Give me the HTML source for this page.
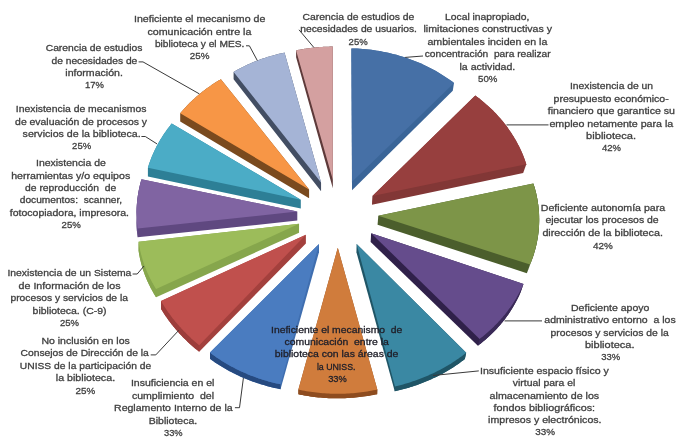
<!DOCTYPE html>
<html><head><meta charset="utf-8"><style>
html,body{margin:0;padding:0;background:#fff;}
svg{display:block;will-change:transform;}
text{font-family:"Liberation Sans",sans-serif;font-size:9.8px;}
</style></head><body>
<svg width="688" height="442" viewBox="0 0 688 442">
<rect width="688" height="442" fill="#fff"/>
<polygon points="352.01,190.34 351.38,55.22 351.40,48.40 354.25,48.47 357.10,48.59 359.95,48.75 362.80,48.95 365.64,49.20 368.48,49.49 371.32,49.83 374.14,50.22 376.97,50.64 379.78,51.11 382.58,51.63 385.38,52.19 388.16,52.79 390.93,53.44 393.69,54.13 396.44,54.86 399.17,55.64 401.89,56.46 404.59,57.32 407.28,58.23 409.95,59.17 412.60,60.16 415.23,61.19 417.84,62.26 420.43,63.37 422.99,64.52 425.54,65.71 428.06,66.94 430.55,68.21 433.03,69.52 435.47,70.87 437.89,72.26 440.28,73.68 442.64,75.15 444.97,76.64 447.28,78.18 449.55,79.75 451.79,81.36 454.00,83.00 452.76,90.63" fill="#3a6598"/>
<polygon points="352.10,181.73 351.40,48.40 354.25,48.47 357.10,48.59 359.95,48.75 362.80,48.95 365.64,49.20 368.48,49.49 371.32,49.83 374.14,50.22 376.97,50.64 379.78,51.11 382.58,51.63 385.38,52.19 388.16,52.79 390.93,53.44 393.69,54.13 396.44,54.86 399.17,55.64 401.89,56.46 404.59,57.32 407.28,58.23 409.95,59.17 412.60,60.16 415.23,61.19 417.84,62.26 420.43,63.37 422.99,64.52 425.54,65.71 428.06,66.94 430.55,68.21 433.03,69.52 435.47,70.87 437.89,72.26 440.28,73.68 442.64,75.15 444.97,76.64 447.28,78.18 449.55,79.75 451.79,81.36 454.00,83.00" fill="#4670a6"/>
<polygon points="523.16,173.01 371.94,204.82 372.46,195.94 475.30,95.50 477.16,96.88 478.99,98.28 480.79,99.71 482.58,101.16 484.33,102.63 486.06,104.13 487.77,105.65 489.45,107.19 491.10,108.75 492.72,110.34 494.32,111.95 495.89,113.58 497.43,115.23 498.94,116.90 500.42,118.59 501.87,120.30 503.29,122.03 504.69,123.78 506.05,125.55 507.38,127.34 508.67,129.14 509.94,130.97 511.17,132.80 512.38,134.66 513.54,136.53 514.68,138.42 515.78,140.32 516.85,142.24 517.89,144.17 518.89,146.12 519.85,148.08 520.78,150.05 521.68,152.04 522.54,154.04 523.36,156.05 524.15,158.07 524.90,160.10 525.62,162.15 526.30,164.20" fill="#823736"/>
<polygon points="372.46,195.94 475.30,95.50 477.16,96.88 478.99,98.28 480.79,99.71 482.58,101.16 484.33,102.63 486.06,104.13 487.77,105.65 489.45,107.19 491.10,108.75 492.72,110.34 494.32,111.95 495.89,113.58 497.43,115.23 498.94,116.90 500.42,118.59 501.87,120.30 503.29,122.03 504.69,123.78 506.05,125.55 507.38,127.34 508.67,129.14 509.94,130.97 511.17,132.80 512.38,134.66 513.54,136.53 514.68,138.42 515.78,140.32 516.85,142.24 517.89,144.17 518.89,146.12 519.85,148.08 520.78,150.05 521.68,152.04 522.54,154.04 523.36,156.05 524.15,158.07 524.90,160.10 525.62,162.15 526.30,164.20" fill="#973f3e"/>
<polygon points="526.80,273.21 377.59,224.80 378.30,215.80 533.30,183.40 533.95,185.43 534.56,187.46 535.14,189.50 535.67,191.55 536.17,193.61 536.64,195.68 537.06,197.75 537.44,199.83 537.79,201.92 538.10,204.01 538.37,206.10 538.60,208.20 538.79,210.31 538.95,212.41 539.06,214.52 539.13,216.63 539.17,218.74 539.17,220.86 539.12,222.97 539.04,225.09 538.92,227.20 538.76,229.32 538.56,231.43 538.31,233.54 538.03,235.65 537.72,237.75 537.36,239.85 536.96,241.95 536.52,244.04 536.04,246.13 535.53,248.21 534.97,250.29 534.38,252.36 533.75,254.42 533.07,256.47 532.36,258.52 531.61,260.55 528.37,269.23 527.61,271.22" fill="#4b5e2c"/>
<polygon points="533.30,183.40 533.95,185.43 534.56,187.46 535.14,189.50 535.67,191.55 536.17,193.61 536.64,195.68 537.06,197.75 537.44,199.83 537.79,201.92 538.10,204.01 538.37,206.10 538.60,208.20 538.79,210.31 538.95,212.41 539.06,214.52 539.13,216.63 539.17,218.74 539.17,220.86 539.12,222.97 539.04,225.09 538.92,227.20 538.76,229.32 538.56,231.43 538.31,233.54 538.03,235.65 537.72,237.75 537.36,239.85 536.96,241.95 536.52,244.04 536.04,246.13 535.53,248.21 534.97,250.29 534.38,252.36 533.75,254.42 533.07,256.47 532.36,258.52 531.61,260.55 530.83,262.58 530.00,264.60 526.80,273.21 527.61,271.22 528.37,269.23 529.10,267.22 529.79,265.20 530.44,263.17 531.05,261.13 531.63,259.09 532.17,257.03 532.67,254.97 533.13,252.90 533.55,250.83 533.94,248.75 534.28,246.66 534.59,244.57 534.86,242.48 535.09,240.38 535.29,238.28 535.44,236.17 535.56,234.07 535.63,231.96 535.67,229.85 535.67,227.74 535.64,225.63 535.56,223.52 535.45,221.41 535.29,219.30 535.10,217.20 534.88,215.10 534.62,213.00 534.32,210.91 533.98,208.82 533.60,206.73 533.19,204.66 532.74,202.58 532.26,200.52 531.73,198.46 531.17,196.41 530.58,194.37 529.95,192.33" fill="#4f6330"/>
<polygon points="378.30,215.80 533.30,183.40 533.95,185.43 534.56,187.46 535.14,189.50 535.67,191.55 536.17,193.61 536.64,195.68 537.06,197.75 537.44,199.83 537.79,201.92 538.10,204.01 538.37,206.10 538.60,208.20 538.79,210.31 538.95,212.41 539.06,214.52 539.13,216.63 539.17,218.74 539.17,220.86 539.12,222.97 539.04,225.09 538.92,227.20 538.76,229.32 538.56,231.43 538.31,233.54 538.03,235.65 537.72,237.75 537.36,239.85 536.96,241.95 536.52,244.04 536.04,246.13 535.53,248.21 534.97,250.29 534.38,252.36 533.75,254.42 533.07,256.47 532.36,258.52 531.61,260.55 530.83,262.58 530.00,264.60" fill="#7d9548"/>
<polygon points="477.89,345.70 370.64,241.89 371.12,233.18 523.50,284.00 520.57,292.27 519.88,293.84 519.18,295.40 518.45,296.95 517.70,298.49 516.93,300.03 516.13,301.56 515.31,303.08 514.47,304.58 513.61,306.09 512.72,307.58 511.81,309.06 510.88,310.53 509.93,311.99 508.95,313.44 507.95,314.88 506.94,316.31 505.90,317.73 504.84,319.14 503.75,320.53 502.65,321.91 501.52,323.29 500.38,324.65 499.21,325.99 498.03,327.33 496.82,328.65 495.59,329.96 494.35,331.26 493.08,332.54 491.79,333.81 490.49,335.06 489.16,336.30 487.82,337.53 486.45,338.74 485.07,339.94 483.67,341.12 482.25,342.29 480.82,343.44 479.36,344.58" fill="#30214a"/>
<polygon points="523.50,284.00 522.79,285.60 522.06,287.19 521.31,288.78 520.53,290.36 519.73,291.93 518.91,293.49 518.06,295.04 517.19,296.59 516.30,298.13 515.38,299.65 514.44,301.17 513.48,302.68 512.50,304.18 511.49,305.67 510.47,307.15 509.42,308.62 508.35,310.08 507.25,311.53 506.14,312.96 505.00,314.39 503.85,315.80 502.67,317.20 501.47,318.59 500.25,319.97 499.01,321.34 497.75,322.69 496.47,324.03 495.17,325.35 493.85,326.66 492.51,327.96 491.15,329.25 489.77,330.52 488.37,331.77 486.96,333.02 485.52,334.24 484.07,335.46 482.60,336.65 481.11,337.83 479.60,339.00 477.89,345.70 479.36,344.58 480.82,343.44 482.25,342.29 483.67,341.12 485.07,339.94 486.45,338.74 487.82,337.53 489.16,336.30 490.49,335.06 491.79,333.81 493.08,332.54 494.35,331.26 495.59,329.96 496.82,328.65 498.03,327.33 499.21,325.99 500.38,324.65 501.52,323.29 502.65,321.91 503.75,320.53 504.84,319.14 505.90,317.73 506.94,316.31 507.95,314.88 508.95,313.44 509.93,311.99 510.88,310.53 511.81,309.06 512.72,307.58 513.61,306.09 514.47,304.58 515.31,303.08 516.13,301.56 516.93,300.03 517.70,298.49 518.45,296.95 519.18,295.40 519.88,293.84 520.57,292.27" fill="#3a2a58"/>
<polygon points="371.12,233.18 523.50,284.00 522.79,285.60 522.06,287.19 521.31,288.78 520.53,290.36 519.73,291.93 518.91,293.49 518.06,295.04 517.19,296.59 516.30,298.13 515.38,299.65 514.44,301.17 513.48,302.68 512.50,304.18 511.49,305.67 510.47,307.15 509.42,308.62 508.35,310.08 507.25,311.53 506.14,312.96 505.00,314.39 503.85,315.80 502.67,317.20 501.47,318.59 500.25,319.97 499.01,321.34 497.75,322.69 496.47,324.03 495.17,325.35 493.85,326.66 492.51,327.96 491.15,329.25 489.77,330.52 488.37,331.77 486.96,333.02 485.52,334.24 484.07,335.46 482.60,336.65 481.11,337.83 479.60,339.00" fill="#654c8c"/>
<polygon points="394.74,391.24 356.45,252.25 356.61,243.95 466.20,352.80 464.84,359.05 463.32,360.22 461.78,361.37 460.22,362.51 458.64,363.63 457.05,364.74 455.44,365.82 453.81,366.90 452.17,367.95 450.52,368.99 448.84,370.00 447.15,371.00 445.45,371.99 443.73,372.95 442.00,373.90 440.25,374.83 438.49,375.74 436.71,376.63 434.92,377.50 433.12,378.35 431.31,379.19 429.48,380.00 427.64,380.80 425.78,381.57 423.92,382.33 422.04,383.07 420.16,383.78 418.26,384.48 416.35,385.16 414.43,385.81 412.50,386.45 410.56,387.06 408.61,387.66 406.66,388.23 404.69,388.79 402.71,389.32 400.73,389.83 398.74,390.32 396.74,390.79" fill="#1f5566"/>
<polygon points="466.20,352.80 464.64,354.01 463.07,355.21 461.47,356.40 459.86,357.56 458.24,358.71 456.60,359.84 454.94,360.95 453.26,362.05 451.57,363.13 449.87,364.19 448.15,365.23 446.41,366.25 444.66,367.26 442.90,368.25 441.12,369.21 439.32,370.16 437.52,371.09 435.70,372.00 433.87,372.89 432.02,373.76 430.17,374.61 428.30,375.45 426.42,376.26 424.53,377.05 422.63,377.82 420.71,378.57 418.79,379.30 416.85,380.01 414.91,380.70 412.96,381.36 410.99,382.01 409.02,382.63 407.04,383.24 405.05,383.82 403.06,384.38 401.05,384.92 399.04,385.43 397.02,385.93 395.00,386.40 394.74,391.24 396.74,390.79 398.74,390.32 400.73,389.83 402.71,389.32 404.69,388.79 406.66,388.23 408.61,387.66 410.56,387.06 412.50,386.45 414.43,385.81 416.35,385.16 418.26,384.48 420.16,383.78 422.04,383.07 423.92,382.33 425.78,381.57 427.64,380.80 429.48,380.00 431.31,379.19 433.12,378.35 434.92,377.50 436.71,376.63 438.49,375.74 440.25,374.83 442.00,373.90 443.73,372.95 445.45,371.99 447.15,371.00 448.84,370.00 450.52,368.99 452.17,367.95 453.81,366.90 455.44,365.82 457.05,364.74 458.64,363.63 460.22,362.51 461.78,361.37 463.32,360.22 464.84,359.05" fill="#1f5566"/>
<polygon points="356.61,243.95 466.20,352.80 464.64,354.01 463.07,355.21 461.47,356.40 459.86,357.56 458.24,358.71 456.60,359.84 454.94,360.95 453.26,362.05 451.57,363.13 449.87,364.19 448.15,365.23 446.41,366.25 444.66,367.26 442.90,368.25 441.12,369.21 439.32,370.16 437.52,371.09 435.70,372.00 433.87,372.89 432.02,373.76 430.17,374.61 428.30,375.45 426.42,376.26 424.53,377.05 422.63,377.82 420.71,378.57 418.79,379.30 416.85,380.01 414.91,380.70 412.96,381.36 410.99,382.01 409.02,382.63 407.04,383.24 405.05,383.82 403.06,384.38 401.05,384.92 399.04,385.43 397.02,385.93 395.00,386.40" fill="#3a88a3"/>
<polygon points="298.40,389.60 337.79,247.84 377.30,389.50 377.17,394.16 375.20,394.58 373.22,394.97 371.24,395.34 369.25,395.69 367.25,396.01 365.25,396.32 363.24,396.60 361.23,396.87 359.21,397.11 357.19,397.33 355.17,397.53 353.14,397.70 351.11,397.86 349.08,397.99 347.04,398.10 345.00,398.19 342.96,398.26 340.92,398.31 338.87,398.33 336.83,398.33 334.79,398.31 332.74,398.27 330.70,398.21 328.66,398.13 326.62,398.02 324.58,397.89 322.54,397.74 320.51,397.57 318.48,397.38 316.45,397.16 314.43,396.93 312.41,396.67 310.39,396.39 308.38,396.09 306.37,395.76 304.37,395.42 302.37,395.06 300.38,394.67 298.40,394.26" fill="#8a4a1e"/>
<polygon points="377.30,389.50 375.32,389.93 373.33,390.34 371.33,390.72 369.33,391.08 367.32,391.42 365.31,391.74 363.30,392.04 361.28,392.31 359.25,392.56 357.22,392.79 355.19,392.99 353.16,393.18 351.12,393.34 349.09,393.48 347.05,393.59 345.00,393.69 342.96,393.76 340.92,393.81 338.87,393.83 336.83,393.83 334.79,393.81 332.74,393.77 330.70,393.71 328.66,393.62 326.62,393.51 324.58,393.37 322.54,393.22 320.51,393.04 318.48,392.84 316.45,392.61 314.43,392.37 312.41,392.10 310.39,391.81 308.38,391.50 306.37,391.16 304.37,390.80 302.37,390.43 300.38,390.02 298.40,389.60 298.40,394.26 300.38,394.67 302.37,395.06 304.37,395.42 306.37,395.76 308.38,396.09 310.39,396.39 312.41,396.67 314.43,396.93 316.45,397.16 318.48,397.38 320.51,397.57 322.54,397.74 324.58,397.89 326.62,398.02 328.66,398.13 330.70,398.21 332.74,398.27 334.79,398.31 336.83,398.33 338.87,398.33 340.92,398.31 342.96,398.26 345.00,398.19 347.04,398.10 349.08,397.99 351.11,397.86 353.14,397.70 355.17,397.53 357.19,397.33 359.21,397.11 361.23,396.87 363.24,396.60 365.25,396.32 367.25,396.01 369.25,395.69 371.24,395.34 373.22,394.97 375.20,394.58 377.17,394.16" fill="#8e4c1f"/>
<polygon points="337.79,247.84 377.30,389.50 375.32,389.93 373.33,390.34 371.33,390.72 369.33,391.08 367.32,391.42 365.31,391.74 363.30,392.04 361.28,392.31 359.25,392.56 357.22,392.79 355.19,392.99 353.16,393.18 351.12,393.34 349.09,393.48 347.05,393.59 345.00,393.69 342.96,393.76 340.92,393.81 338.87,393.83 336.83,393.83 334.79,393.81 332.74,393.77 330.70,393.71 328.66,393.62 326.62,393.51 324.58,393.37 322.54,393.22 320.51,393.04 318.48,392.84 316.45,392.61 314.43,392.37 312.41,392.10 310.39,391.81 308.38,391.50 306.37,391.16 304.37,390.80 302.37,390.43 300.38,390.02 298.40,389.60" fill="#d07c3c"/>
<polygon points="210.00,352.60 318.98,243.95 318.98,252.25 280.50,389.15 278.49,388.75 276.49,388.32 274.50,387.88 272.52,387.41 270.54,386.92 268.57,386.42 266.61,385.89 264.65,385.34 262.71,384.77 260.77,384.18 258.85,383.57 256.93,382.94 255.03,382.29 253.13,381.63 251.25,380.94 249.38,380.23 247.51,379.50 245.66,378.75 243.83,377.99 242.00,377.20 240.19,376.40 238.39,375.58 236.60,374.73 234.82,373.87 233.06,372.99 231.32,372.10 229.58,371.18 227.87,370.25 226.16,369.30 224.47,368.33 222.80,367.34 221.14,366.34 219.50,365.32 217.88,364.28 216.27,363.23 214.68,362.15 213.10,361.07 211.54,359.96 210.00,358.84" fill="#3f6eaf"/>
<polygon points="280.50,384.30 278.49,383.87 276.49,383.42 274.50,382.95 272.52,382.46 270.54,381.94 268.57,381.41 266.61,380.85 264.65,380.27 262.71,379.67 260.77,379.05 258.85,378.41 256.93,377.75 255.03,377.07 253.13,376.37 251.25,375.65 249.38,374.90 247.51,374.14 245.66,373.36 243.83,372.56 242.00,371.74 240.19,370.89 238.39,370.03 236.60,369.15 234.82,368.25 233.06,367.34 231.32,366.40 229.58,365.45 227.87,364.47 226.16,363.48 224.47,362.47 222.80,361.44 221.14,360.40 219.50,359.33 217.88,358.25 216.27,357.16 214.68,356.04 213.10,354.91 211.54,353.76 210.00,352.60 210.00,358.84 211.54,359.96 213.10,361.07 214.68,362.15 216.27,363.23 217.88,364.28 219.50,365.32 221.14,366.34 222.80,367.34 224.47,368.33 226.16,369.30 227.87,370.25 229.58,371.18 231.32,372.10 233.06,372.99 234.82,373.87 236.60,374.73 238.39,375.58 240.19,376.40 242.00,377.20 243.83,377.99 245.66,378.75 247.51,379.50 249.38,380.23 251.25,380.94 253.13,381.63 255.03,382.29 256.93,382.94 258.85,383.57 260.77,384.18 262.71,384.77 264.65,385.34 266.61,385.89 268.57,386.42 270.54,386.92 272.52,387.41 274.50,387.88 276.49,388.32 278.49,388.75 280.50,389.15" fill="#264a80"/>
<polygon points="318.98,243.95 280.50,384.30 278.49,383.87 276.49,383.42 274.50,382.95 272.52,382.46 270.54,381.94 268.57,381.41 266.61,380.85 264.65,380.27 262.71,379.67 260.77,379.05 258.85,378.41 256.93,377.75 255.03,377.07 253.13,376.37 251.25,375.65 249.38,374.90 247.51,374.14 245.66,373.36 243.83,372.56 242.00,371.74 240.19,370.89 238.39,370.03 236.60,369.15 234.82,368.25 233.06,367.34 231.32,366.40 229.58,365.45 227.87,364.47 226.16,363.48 224.47,362.47 222.80,361.44 221.14,360.40 219.50,359.33 217.88,358.25 216.27,357.16 214.68,356.04 213.10,354.91 211.54,353.76 210.00,352.60" fill="#4a7cc0"/>
<polygon points="161.00,301.00 305.88,234.78 305.88,243.44 199.20,351.74 198.01,350.79 196.83,349.84 195.66,348.88 194.50,347.90 193.35,346.92 192.21,345.93 191.08,344.93 189.96,343.93 188.85,342.91 187.75,341.89 186.67,340.85 185.59,339.81 184.53,338.76 183.47,337.70 182.43,336.64 181.40,335.56 180.38,334.48 179.37,333.39 178.38,332.29 177.39,331.19 176.42,330.08 175.46,328.96 174.51,327.83 173.57,326.70 172.65,325.55 171.73,324.41 170.83,323.25 169.94,322.09 169.07,320.92 168.20,319.74 167.35,318.56 166.51,317.37 165.69,316.18 164.87,314.98 164.07,313.77 163.29,312.56 162.51,311.34 161.75,310.12 161.00,308.89" fill="#a3403d"/>
<polygon points="199.20,345.20 198.01,344.22 196.83,343.23 195.66,342.23 194.50,341.22 193.35,340.21 192.21,339.18 191.08,338.15 189.96,337.10 188.85,336.05 187.75,334.99 186.67,333.92 185.59,332.84 184.53,331.76 183.47,330.66 182.43,329.56 181.40,328.45 180.38,327.33 179.37,326.21 178.38,325.08 177.39,323.94 176.42,322.79 175.46,321.63 174.51,320.47 173.57,319.30 172.65,318.13 171.73,316.94 170.83,315.75 169.94,314.56 169.07,313.36 168.20,312.15 167.35,310.93 166.51,309.71 165.69,308.48 164.87,307.25 164.07,306.01 163.29,304.77 162.51,303.52 161.75,302.26 161.00,301.00 161.00,308.89 161.75,310.12 162.51,311.34 163.29,312.56 164.07,313.77 164.87,314.98 165.69,316.18 166.51,317.37 167.35,318.56 168.20,319.74 169.07,320.92 169.94,322.09 170.83,323.25 171.73,324.41 172.65,325.55 173.57,326.70 174.51,327.83 175.46,328.96 176.42,330.08 177.39,331.19 178.38,332.29 179.37,333.39 180.38,334.48 181.40,335.56 182.43,336.64 183.47,337.70 184.53,338.76 185.59,339.81 186.67,340.85 187.75,341.89 188.85,342.91 189.96,343.93 191.08,344.93 192.21,345.93 193.35,346.92 194.50,347.90 195.66,348.88 196.83,349.84 198.01,350.79 199.20,351.74" fill="#9c3d3b"/>
<polygon points="305.88,234.78 199.20,345.20 198.01,344.22 196.83,343.23 195.66,342.23 194.50,341.22 193.35,340.21 192.21,339.18 191.08,338.15 189.96,337.10 188.85,336.05 187.75,334.99 186.67,333.92 185.59,332.84 184.53,331.76 183.47,330.66 182.43,329.56 181.40,328.45 180.38,327.33 179.37,326.21 178.38,325.08 177.39,323.94 176.42,322.79 175.46,321.63 174.51,320.47 173.57,319.30 172.65,318.13 171.73,316.94 170.83,315.75 169.94,314.56 169.07,313.36 168.20,312.15 167.35,310.93 166.51,309.71 165.69,308.48 164.87,307.25 164.07,306.01 163.29,304.77 162.51,303.52 161.75,302.26 161.00,301.00" fill="#c0504d"/>
<polygon points="138.60,241.80 299.05,223.83 299.05,232.76 156.10,297.25 155.40,296.14 154.70,295.02 154.03,293.89 153.36,292.76 152.71,291.62 152.07,290.48 151.44,289.33 150.83,288.18 150.23,287.02 149.65,285.86 149.07,284.70 148.52,283.53 147.97,282.35 147.44,281.17 146.92,279.99 146.41,278.81 145.92,277.62 145.44,276.42 144.98,275.22 144.53,274.02 144.09,272.82 143.67,271.61 143.26,270.40 142.86,269.19 142.48,267.97 142.12,266.75 141.76,265.53 141.42,264.30 141.09,263.07 140.78,261.84 140.48,260.61 140.20,259.38 139.93,258.14 139.67,256.90 139.43,255.66 139.20,254.42 138.99,253.17 138.79,251.93 138.60,250.68" fill="#86a64c"/>
<polygon points="156.10,289.10 155.40,287.96 154.70,286.81 154.03,285.66 153.36,284.50 152.71,283.34 152.07,282.17 151.44,281.00 150.83,279.83 150.23,278.65 149.65,277.47 149.07,276.28 148.52,275.09 147.97,273.89 147.44,272.69 146.92,271.49 146.41,270.28 145.92,269.07 145.44,267.86 144.98,266.64 144.53,265.42 144.09,264.20 143.67,262.97 143.26,261.74 142.86,260.51 142.48,259.28 142.12,258.04 141.76,256.80 141.42,255.56 141.09,254.32 140.78,253.08 140.48,251.83 140.20,250.58 139.93,249.33 139.67,248.08 139.43,246.82 139.20,245.57 138.99,244.31 138.79,243.06 138.60,241.80 138.60,250.68 138.79,251.93 138.99,253.17 139.20,254.42 139.43,255.66 139.67,256.90 139.93,258.14 140.20,259.38 140.48,260.61 140.78,261.84 141.09,263.07 141.42,264.30 141.76,265.53 142.12,266.75 142.48,267.97 142.86,269.19 143.26,270.40 143.67,271.61 144.09,272.82 144.53,274.02 144.98,275.22 145.44,276.42 145.92,277.62 146.41,278.81 146.92,279.99 147.44,281.17 147.97,282.35 148.52,283.53 149.07,284.70 149.65,285.86 150.23,287.02 150.83,288.18 151.44,289.33 152.07,290.48 152.71,291.62 153.36,292.76 154.03,293.89 154.70,295.02 155.40,296.14 156.10,297.25" fill="#86a64c"/>
<polygon points="299.05,223.83 156.10,289.10 155.40,287.96 154.70,286.81 154.03,285.66 153.36,284.50 152.71,283.34 152.07,282.17 151.44,281.00 150.83,279.83 150.23,278.65 149.65,277.47 149.07,276.28 148.52,275.09 147.97,273.89 147.44,272.69 146.92,271.49 146.41,270.28 145.92,269.07 145.44,267.86 144.98,266.64 144.53,265.42 144.09,264.20 143.67,262.97 143.26,261.74 142.86,260.51 142.48,259.28 142.12,258.04 141.76,256.80 141.42,255.56 141.09,254.32 140.78,253.08 140.48,251.83 140.20,250.58 139.93,249.33 139.67,248.08 139.43,246.82 139.20,245.57 138.99,244.31 138.79,243.06 138.60,241.80" fill="#9cbc5a"/>
<polygon points="141.50,179.30 297.29,211.59 297.29,220.59 137.60,237.37 137.44,236.10 137.29,234.83 137.15,233.56 137.03,232.29 136.92,231.02 136.83,229.75 136.75,228.48 136.69,227.21 136.63,225.94 136.60,224.66 136.57,223.39 136.56,222.12 136.56,213.12 136.57,211.84 136.59,210.57 136.62,209.30 136.66,208.03 136.72,206.76 136.80,205.49 136.88,204.23 136.99,202.96 137.10,201.70 137.23,200.43 137.37,199.17 137.53,197.91 137.70,196.65 137.88,195.40 138.08,194.14 138.29,192.89 138.51,191.64 138.75,190.40 139.00,189.15 139.27,187.91 139.55,186.67 139.84,185.44 140.15,184.20 140.46,182.97 140.80,181.74 141.14,180.52" fill="#5f4880"/>
<polygon points="137.60,228.40 137.44,227.13 137.29,225.86 137.15,224.58 137.03,223.31 136.92,222.03 136.83,220.76 136.75,219.49 136.69,218.21 136.63,216.94 136.60,215.66 136.57,214.39 136.56,213.12 136.57,211.84 136.59,210.57 136.62,209.30 136.66,208.03 136.72,206.76 136.80,205.49 136.88,204.23 136.99,202.96 137.10,201.70 137.23,200.43 137.37,199.17 137.53,197.91 137.70,196.65 137.88,195.40 138.08,194.14 138.29,192.89 138.51,191.64 138.75,190.40 139.00,189.15 139.27,187.91 139.55,186.67 139.84,185.44 140.15,184.20 140.46,182.97 140.80,181.74 141.14,180.52 141.50,179.30 141.50,188.21 141.14,189.44 140.80,190.67 140.46,191.90 140.15,193.14 139.84,194.38 139.55,195.62 139.27,196.86 139.00,198.11 138.75,199.36 138.51,200.61 138.29,201.86 138.08,203.12 137.88,204.37 137.70,205.63 137.53,206.89 137.37,208.16 137.23,209.42 137.10,210.68 136.99,211.95 136.88,213.22 136.80,214.49 136.72,215.76 136.66,217.03 136.62,218.30 136.59,219.57 136.57,220.84 136.56,222.12 136.57,223.39 136.60,224.66 136.63,225.94 136.69,227.21 136.75,228.48 136.83,229.75 136.92,231.02 137.03,232.29 137.15,233.56 137.29,234.83 137.44,236.10 137.60,237.37" fill="#6a5190"/>
<polygon points="297.29,211.59 137.60,228.40 137.44,227.13 137.29,225.86 137.15,224.58 137.03,223.31 136.92,222.03 136.83,220.76 136.75,219.49 136.69,218.21 136.63,216.94 136.60,215.66 136.57,214.39 136.56,213.12 136.57,211.84 136.59,210.57 136.62,209.30 136.66,208.03 136.72,206.76 136.80,205.49 136.88,204.23 136.99,202.96 137.10,201.70 137.23,200.43 137.37,199.17 137.53,197.91 137.70,196.65 137.88,195.40 138.08,194.14 138.29,192.89 138.51,191.64 138.75,190.40 139.00,189.15 139.27,187.91 139.55,186.67 139.84,185.44 140.15,184.20 140.46,182.97 140.80,181.74 141.14,180.52 141.50,179.30" fill="#8064a2"/>
<polygon points="171.70,123.60 300.80,199.65 300.80,208.58 147.90,176.54 147.90,167.70 148.28,166.48 148.67,165.27 149.07,164.05 149.49,162.84 149.91,161.64 150.36,160.44 150.81,159.24 151.28,158.05 151.75,156.86 152.25,155.68 152.75,154.50 153.27,153.32 153.80,152.15 154.34,150.98 154.89,149.82 155.46,148.66 156.03,147.51 156.62,146.37 157.23,145.22 157.84,144.09 158.47,142.96 159.10,141.83 159.75,140.71 160.41,139.60 161.09,138.49 161.77,137.38 162.47,136.29 163.18,135.19 163.90,134.11 164.63,133.03 165.37,131.95 166.12,130.89 166.89,129.83 167.66,128.77 168.45,127.72 169.24,126.68 170.05,125.65 170.87,124.62" fill="#2d7f96"/>
<polygon points="300.80,199.65 147.90,167.70 148.28,166.48 148.67,165.27 149.07,164.05 149.49,162.84 149.91,161.64 150.36,160.44 150.81,159.24 151.28,158.05 151.75,156.86 152.25,155.68 152.75,154.50 153.27,153.32 153.80,152.15 154.34,150.98 154.89,149.82 155.46,148.66 156.03,147.51 156.62,146.37 157.23,145.22 157.84,144.09 158.47,142.96 159.10,141.83 159.75,140.71 160.41,139.60 161.09,138.49 161.77,137.38 162.47,136.29 163.18,135.19 163.90,134.11 164.63,133.03 165.37,131.95 166.12,130.89 166.89,129.83 167.66,128.77 168.45,127.72 169.24,126.68 170.05,125.65 170.87,124.62 171.70,123.60" fill="#4bacc6"/>
<polygon points="220.90,79.20 309.09,189.55 309.09,198.33 180.20,121.41 180.20,113.20 181.06,112.18 181.94,111.16 182.82,110.15 183.72,109.15 184.62,108.16 185.54,107.17 186.46,106.19 187.40,105.22 188.34,104.26 189.30,103.30 190.26,102.35 191.24,101.41 192.22,100.48 193.22,99.55 194.22,98.64 195.23,97.73 196.25,96.83 197.29,95.94 198.33,95.05 199.38,94.17 200.43,93.31 201.50,92.45 202.58,91.60 203.66,90.76 204.75,89.92 205.86,89.10 206.96,88.28 208.08,87.47 209.21,86.68 210.34,85.89 211.49,85.11 212.64,84.34 213.79,83.58 214.96,82.82 216.13,82.08 217.31,81.35 218.50,80.62 219.70,79.91" fill="#7a4a1e"/>
<polygon points="309.09,189.55 180.20,113.20 181.06,112.18 181.94,111.16 182.82,110.15 183.72,109.15 184.62,108.16 185.54,107.17 186.46,106.19 187.40,105.22 188.34,104.26 189.30,103.30 190.26,102.35 191.24,101.41 192.22,100.48 193.22,99.55 194.22,98.64 195.23,97.73 196.25,96.83 197.29,95.94 198.33,95.05 199.38,94.17 200.43,93.31 201.50,92.45 202.58,91.60 203.66,90.76 204.75,89.92 205.86,89.10 206.96,88.28 208.08,87.47 209.21,86.68 210.34,85.89 211.49,85.11 212.64,84.34 213.79,83.58 214.96,82.82 216.13,82.08 217.31,81.35 218.50,80.62 219.70,79.91 220.90,79.20" fill="#f79646"/>
<polygon points="284.50,52.60 321.06,182.57 321.06,191.20 233.60,79.32 233.60,71.90 234.80,71.21 236.00,70.53 237.21,69.87 238.43,69.21 239.66,68.56 240.89,67.92 242.12,67.29 243.37,66.67 244.62,66.06 245.87,65.46 247.14,64.87 248.41,64.29 249.68,63.72 250.96,63.16 252.24,62.62 253.54,62.08 254.83,61.55 256.13,61.03 257.44,60.52 258.75,60.03 260.07,59.54 261.39,59.06 262.72,58.60 264.05,58.14 265.38,57.70 266.72,57.26 268.07,56.84 269.42,56.43 270.77,56.03 272.13,55.63 273.49,55.25 274.85,54.88 276.22,54.52 277.59,54.18 278.97,53.84 280.35,53.51 281.73,53.20 283.11,52.89" fill="#434e63"/>
<polygon points="321.06,182.57 233.60,71.90 234.80,71.21 236.00,70.53 237.21,69.87 238.43,69.21 239.66,68.56 240.89,67.92 242.12,67.29 243.37,66.67 244.62,66.06 245.87,65.46 247.14,64.87 248.41,64.29 249.68,63.72 250.96,63.16 252.24,62.62 253.54,62.08 254.83,61.55 256.13,61.03 257.44,60.52 258.75,60.03 260.07,59.54 261.39,59.06 262.72,58.60 264.05,58.14 265.38,57.70 266.72,57.26 268.07,56.84 269.42,56.43 270.77,56.03 272.13,55.63 273.49,55.25 274.85,54.88 276.22,54.52 277.59,54.18 278.97,53.84 280.35,53.51 281.73,53.20 283.11,52.89 284.50,52.60" fill="#a5b4d6"/>
<polygon points="332.84,179.79 332.84,188.35 296.10,57.29 296.10,50.40 297.02,50.21 297.95,50.02 298.88,49.83 299.80,49.65 300.73,49.48 301.66,49.31 302.59,49.14 303.53,48.98 304.46,48.83 305.40,48.68 306.33,48.54 307.27,48.40 308.21,48.27 309.14,48.14 310.08,48.01 311.02,47.90 311.97,47.78 312.91,47.67 313.85,47.57 314.79,47.47 315.74,47.38 316.68,47.29 317.63,47.21 318.57,47.13 319.52,47.06 320.46,47.00 321.41,46.93 322.36,46.88 323.31,46.83 324.26,46.78 325.20,46.74 326.15,46.70 327.10,46.67 328.05,46.65 329.00,46.63 329.95,46.61 330.90,46.60 331.85,46.60 332.80,46.60" fill="#5e3a3a"/>
<polygon points="332.84,179.79 296.10,50.40 297.02,50.21 297.95,50.02 298.88,49.83 299.80,49.65 300.73,49.48 301.66,49.31 302.59,49.14 303.53,48.98 304.46,48.83 305.40,48.68 306.33,48.54 307.27,48.40 308.21,48.27 309.14,48.14 310.08,48.01 311.02,47.90 311.97,47.78 312.91,47.67 313.85,47.57 314.79,47.47 315.74,47.38 316.68,47.29 317.63,47.21 318.57,47.13 319.52,47.06 320.46,47.00 321.41,46.93 322.36,46.88 323.31,46.83 324.26,46.78 325.20,46.74 326.15,46.70 327.10,46.67 328.05,46.65 329.00,46.63 329.95,46.61 330.90,46.60 331.85,46.60 332.80,46.60" fill="#d4a0a0"/>
<polyline points="257.30,60.50 249.40,45.80 246.00,45.80" fill="none" stroke="#3a3a3a" stroke-width="1"/>
<polyline points="313.80,47.40 299.00,29.80" fill="none" stroke="#3a3a3a" stroke-width="1"/>
<polyline points="405.20,57.40 423.00,56.00" fill="none" stroke="#3a3a3a" stroke-width="1"/>
<polyline points="506.50,124.90 548.50,124.90" fill="none" stroke="#3a3a3a" stroke-width="1"/>
<polyline points="504.50,320.90 542.00,320.90" fill="none" stroke="#3a3a3a" stroke-width="1"/>
<polyline points="433.00,375.50 478.80,370.90" fill="none" stroke="#3a3a3a" stroke-width="1"/>
<polyline points="243.40,378.00 239.50,407.70 234.90,407.70" fill="none" stroke="#3a3a3a" stroke-width="1"/>
<polyline points="178.90,330.20 155.80,354.90 150.70,354.90" fill="none" stroke="#3a3a3a" stroke-width="1"/>
<polyline points="144.00,266.00 137.20,274.00 132.60,274.00" fill="none" stroke="#3a3a3a" stroke-width="1"/>
<polyline points="157.00,143.90 145.30,136.50 141.40,136.50" fill="none" stroke="#3a3a3a" stroke-width="1"/>
<polyline points="199.40,93.90 143.00,61.90 138.60,61.90" fill="none" stroke="#3a3a3a" stroke-width="1"/>
<text x="134.0" y="22.4" textLength="131.3" lengthAdjust="spacingAndGlyphs" fill="#404040" stroke="#404040" stroke-width="0.3" xml:space="preserve">Ineficiente el mecanismo de</text>
<text x="147.4" y="34.7" textLength="104.0" lengthAdjust="spacingAndGlyphs" fill="#404040" stroke="#404040" stroke-width="0.3" xml:space="preserve">comunicación entre la</text>
<text x="154.9" y="46.6" textLength="89.5" lengthAdjust="spacingAndGlyphs" fill="#404040" stroke="#404040" stroke-width="0.3" xml:space="preserve">biblioteca y el MES.</text>
<text x="189.8" y="59.3" textLength="19.7" lengthAdjust="spacingAndGlyphs" fill="#404040" stroke="#404040" stroke-width="0.3" xml:space="preserve">25%</text>
<text x="302.6" y="20.1" textLength="111.6" lengthAdjust="spacingAndGlyphs" fill="#404040" stroke="#404040" stroke-width="0.3" xml:space="preserve">Carencia de estudios de</text>
<text x="300.2" y="32.4" textLength="116.8" lengthAdjust="spacingAndGlyphs" fill="#404040" stroke="#404040" stroke-width="0.3" xml:space="preserve">necesidades de usuarios.</text>
<text x="348.6" y="44.7" textLength="19.1" lengthAdjust="spacingAndGlyphs" fill="#404040" stroke="#404040" stroke-width="0.3" xml:space="preserve">25%</text>
<text x="445.1" y="20.1" textLength="84.2" lengthAdjust="spacingAndGlyphs" fill="#404040" stroke="#404040" stroke-width="0.3" xml:space="preserve">Local inapropiado,</text>
<text x="423.5" y="32.4" textLength="128.6" lengthAdjust="spacingAndGlyphs" fill="#404040" stroke="#404040" stroke-width="0.3" xml:space="preserve">limitaciones constructivas y</text>
<text x="427.4" y="44.7" textLength="120.0" lengthAdjust="spacingAndGlyphs" fill="#404040" stroke="#404040" stroke-width="0.3" xml:space="preserve">ambientales inciden en la</text>
<text x="424.7" y="57.2" textLength="126.0" lengthAdjust="spacingAndGlyphs" fill="#404040" stroke="#404040" stroke-width="0.3" xml:space="preserve">concentración  para realizar</text>
<text x="459.5" y="69.6" textLength="55.8" lengthAdjust="spacingAndGlyphs" fill="#404040" stroke="#404040" stroke-width="0.3" xml:space="preserve">la actividad.</text>
<text x="478.0" y="82.2" textLength="19.4" lengthAdjust="spacingAndGlyphs" fill="#404040" stroke="#404040" stroke-width="0.3" xml:space="preserve">50%</text>
<text x="569.9" y="89.1" textLength="83.2" lengthAdjust="spacingAndGlyphs" fill="#404040" stroke="#404040" stroke-width="0.3" xml:space="preserve">Inexistencia de un</text>
<text x="553.6" y="101.7" textLength="115.1" lengthAdjust="spacingAndGlyphs" fill="#404040" stroke="#404040" stroke-width="0.3" xml:space="preserve">presupuesto económico-</text>
<text x="547.8" y="114.0" textLength="127.2" lengthAdjust="spacingAndGlyphs" fill="#404040" stroke="#404040" stroke-width="0.3" xml:space="preserve">financiero que garantice su</text>
<text x="549.4" y="126.6" textLength="123.9" lengthAdjust="spacingAndGlyphs" fill="#404040" stroke="#404040" stroke-width="0.3" xml:space="preserve">empleo netamente para la</text>
<text x="586.1" y="138.9" textLength="50.0" lengthAdjust="spacingAndGlyphs" fill="#404040" stroke="#404040" stroke-width="0.3" xml:space="preserve">biblioteca.</text>
<text x="602.0" y="151.2" textLength="19.0" lengthAdjust="spacingAndGlyphs" fill="#404040" stroke="#404040" stroke-width="0.3" xml:space="preserve">42%</text>
<text x="540.8" y="210.8" textLength="124.4" lengthAdjust="spacingAndGlyphs" fill="#404040" stroke="#404040" stroke-width="0.3" xml:space="preserve">Deficiente autonomía para</text>
<text x="545.4" y="223.4" textLength="113.3" lengthAdjust="spacingAndGlyphs" fill="#404040" stroke="#404040" stroke-width="0.3" xml:space="preserve">ejecutar los procesos de</text>
<text x="542.4" y="235.9" textLength="120.5" lengthAdjust="spacingAndGlyphs" fill="#404040" stroke="#404040" stroke-width="0.3" xml:space="preserve">dirección de la biblioteca.</text>
<text x="593.1" y="248.5" textLength="19.8" lengthAdjust="spacingAndGlyphs" fill="#404040" stroke="#404040" stroke-width="0.3" xml:space="preserve">42%</text>
<text x="571.0" y="310.8" textLength="78.4" lengthAdjust="spacingAndGlyphs" fill="#404040" stroke="#404040" stroke-width="0.3" xml:space="preserve">Deficiente apoyo</text>
<text x="544.3" y="323.4" textLength="131.4" lengthAdjust="spacingAndGlyphs" fill="#404040" stroke="#404040" stroke-width="0.3" xml:space="preserve">administrativo entorno  a los</text>
<text x="550.6" y="335.8" textLength="118.1" lengthAdjust="spacingAndGlyphs" fill="#404040" stroke="#404040" stroke-width="0.3" xml:space="preserve">procesos y servicios de la</text>
<text x="585.0" y="348.0" textLength="49.5" lengthAdjust="spacingAndGlyphs" fill="#404040" stroke="#404040" stroke-width="0.3" xml:space="preserve">biblioteca.</text>
<text x="601.3" y="360.3" textLength="19.0" lengthAdjust="spacingAndGlyphs" fill="#404040" stroke="#404040" stroke-width="0.3" xml:space="preserve">33%</text>
<text x="480.0" y="374.3" textLength="128.8" lengthAdjust="spacingAndGlyphs" fill="#404040" stroke="#404040" stroke-width="0.3" xml:space="preserve">Insuficiente espacio físico y</text>
<text x="512.8" y="386.4" textLength="62.5" lengthAdjust="spacingAndGlyphs" fill="#404040" stroke="#404040" stroke-width="0.3" xml:space="preserve">virtual para el</text>
<text x="489.6" y="398.5" textLength="109.6" lengthAdjust="spacingAndGlyphs" fill="#404040" stroke="#404040" stroke-width="0.3" xml:space="preserve">almacenamiento de los</text>
<text x="493.4" y="410.7" textLength="101.7" lengthAdjust="spacingAndGlyphs" fill="#404040" stroke="#404040" stroke-width="0.3" xml:space="preserve">fondos bibliográficos:</text>
<text x="488.1" y="423.0" textLength="113.4" lengthAdjust="spacingAndGlyphs" fill="#404040" stroke="#404040" stroke-width="0.3" xml:space="preserve">impresos y electrónicos.</text>
<text x="535.2" y="435.3" textLength="19.8" lengthAdjust="spacingAndGlyphs" fill="#404040" stroke="#404040" stroke-width="0.3" xml:space="preserve">33%</text>
<text x="271.1" y="332.5" textLength="131.2" lengthAdjust="spacingAndGlyphs" fill="#20202a" stroke="#20202a" stroke-width="0.3" xml:space="preserve">Ineficiente el mecanismo  de</text>
<text x="284.6" y="344.7" textLength="104.2" lengthAdjust="spacingAndGlyphs" fill="#20202a" stroke="#20202a" stroke-width="0.3" xml:space="preserve">comunicación  entre la</text>
<text x="274.8" y="357.2" textLength="123.6" lengthAdjust="spacingAndGlyphs" fill="#20202a" stroke="#20202a" stroke-width="0.3" xml:space="preserve">biblioteca con las áreas de</text>
<text x="316.9" y="369.6" textLength="38.6" lengthAdjust="spacingAndGlyphs" fill="#20202a" stroke="#20202a" stroke-width="0.3" xml:space="preserve">la UNISS.</text>
<text x="328.2" y="381.6" textLength="18.6" lengthAdjust="spacingAndGlyphs" fill="#20202a" stroke="#20202a" stroke-width="0.3" xml:space="preserve">33%</text>
<text x="130.9" y="386.1" textLength="83.5" lengthAdjust="spacingAndGlyphs" fill="#404040" stroke="#404040" stroke-width="0.3" xml:space="preserve">Insuficiencia en el</text>
<text x="131.9" y="398.6" textLength="82.1" lengthAdjust="spacingAndGlyphs" fill="#404040" stroke="#404040" stroke-width="0.3" xml:space="preserve">cumplimiento  del</text>
<text x="114.0" y="411.0" textLength="118.6" lengthAdjust="spacingAndGlyphs" fill="#404040" stroke="#404040" stroke-width="0.3" xml:space="preserve">Reglamento Interno de la</text>
<text x="148.8" y="423.5" textLength="48.4" lengthAdjust="spacingAndGlyphs" fill="#404040" stroke="#404040" stroke-width="0.3" xml:space="preserve">Biblioteca.</text>
<text x="164.0" y="435.6" textLength="18.6" lengthAdjust="spacingAndGlyphs" fill="#404040" stroke="#404040" stroke-width="0.3" xml:space="preserve">33%</text>
<text x="41.4" y="343.6" textLength="88.4" lengthAdjust="spacingAndGlyphs" fill="#404040" stroke="#404040" stroke-width="0.3" xml:space="preserve">No inclusión en los</text>
<text x="20.5" y="356.1" textLength="128.3" lengthAdjust="spacingAndGlyphs" fill="#404040" stroke="#404040" stroke-width="0.3" xml:space="preserve">Consejos de Dirección de la</text>
<text x="19.8" y="368.6" textLength="131.4" lengthAdjust="spacingAndGlyphs" fill="#404040" stroke="#404040" stroke-width="0.3" xml:space="preserve">UNISS de la participación de</text>
<text x="55.8" y="381.1" textLength="59.3" lengthAdjust="spacingAndGlyphs" fill="#404040" stroke="#404040" stroke-width="0.3" xml:space="preserve">la biblioteca.</text>
<text x="75.6" y="393.6" textLength="19.7" lengthAdjust="spacingAndGlyphs" fill="#404040" stroke="#404040" stroke-width="0.3" xml:space="preserve">25%</text>
<text x="7.4" y="276.1" textLength="124.0" lengthAdjust="spacingAndGlyphs" fill="#404040" stroke="#404040" stroke-width="0.3" xml:space="preserve">Inexistencia de un Sistema</text>
<text x="18.6" y="288.6" textLength="101.9" lengthAdjust="spacingAndGlyphs" fill="#404040" stroke="#404040" stroke-width="0.3" xml:space="preserve">de Información de los</text>
<text x="10.5" y="301.1" textLength="117.4" lengthAdjust="spacingAndGlyphs" fill="#404040" stroke="#404040" stroke-width="0.3" xml:space="preserve">procesos y servicios de la</text>
<text x="32.6" y="313.6" textLength="73.9" lengthAdjust="spacingAndGlyphs" fill="#404040" stroke="#404040" stroke-width="0.3" xml:space="preserve">biblioteca. (C-9)</text>
<text x="60.0" y="325.6" textLength="19.1" lengthAdjust="spacingAndGlyphs" fill="#404040" stroke="#404040" stroke-width="0.3" xml:space="preserve">25%</text>
<text x="36.0" y="166.1" textLength="69.8" lengthAdjust="spacingAndGlyphs" fill="#404040" stroke="#404040" stroke-width="0.3" xml:space="preserve">Inexistencia de</text>
<text x="11.2" y="178.6" textLength="119.0" lengthAdjust="spacingAndGlyphs" fill="#404040" stroke="#404040" stroke-width="0.3" xml:space="preserve">herramientas y/o equipos</text>
<text x="25.1" y="191.0" textLength="91.2" lengthAdjust="spacingAndGlyphs" fill="#404040" stroke="#404040" stroke-width="0.3" xml:space="preserve">de reproducción  de</text>
<text x="19.8" y="203.4" textLength="102.3" lengthAdjust="spacingAndGlyphs" fill="#404040" stroke="#404040" stroke-width="0.3" xml:space="preserve">documentos:  scanner,</text>
<text x="9.8" y="215.7" textLength="119.2" lengthAdjust="spacingAndGlyphs" fill="#404040" stroke="#404040" stroke-width="0.3" xml:space="preserve">fotocopiadora, impresora.</text>
<text x="61.6" y="227.9" textLength="19.3" lengthAdjust="spacingAndGlyphs" fill="#404040" stroke="#404040" stroke-width="0.3" xml:space="preserve">25%</text>
<text x="15.8" y="112.4" textLength="130.7" lengthAdjust="spacingAndGlyphs" fill="#404040" stroke="#404040" stroke-width="0.3" xml:space="preserve">Inexistencia de mecanismos</text>
<text x="15.1" y="124.7" textLength="131.9" lengthAdjust="spacingAndGlyphs" fill="#404040" stroke="#404040" stroke-width="0.3" xml:space="preserve">de evaluación de procesos y</text>
<text x="22.6" y="137.0" textLength="118.1" lengthAdjust="spacingAndGlyphs" fill="#404040" stroke="#404040" stroke-width="0.3" xml:space="preserve">servicios de la biblioteca.</text>
<text x="72.1" y="149.4" textLength="19.1" lengthAdjust="spacingAndGlyphs" fill="#404040" stroke="#404040" stroke-width="0.3" xml:space="preserve">25%</text>
<text x="45.7" y="51.4" textLength="96.8" lengthAdjust="spacingAndGlyphs" fill="#404040" stroke="#404040" stroke-width="0.3" xml:space="preserve">Carencia de estudios</text>
<text x="51.5" y="63.5" textLength="85.8" lengthAdjust="spacingAndGlyphs" fill="#404040" stroke="#404040" stroke-width="0.3" xml:space="preserve">de necesidades de</text>
<text x="65.3" y="75.7" textLength="57.6" lengthAdjust="spacingAndGlyphs" fill="#404040" stroke="#404040" stroke-width="0.3" xml:space="preserve">información.</text>
<text x="85.0" y="88.0" textLength="19.0" lengthAdjust="spacingAndGlyphs" fill="#404040" stroke="#404040" stroke-width="0.3" xml:space="preserve">17%</text>
</svg>
</body></html>
